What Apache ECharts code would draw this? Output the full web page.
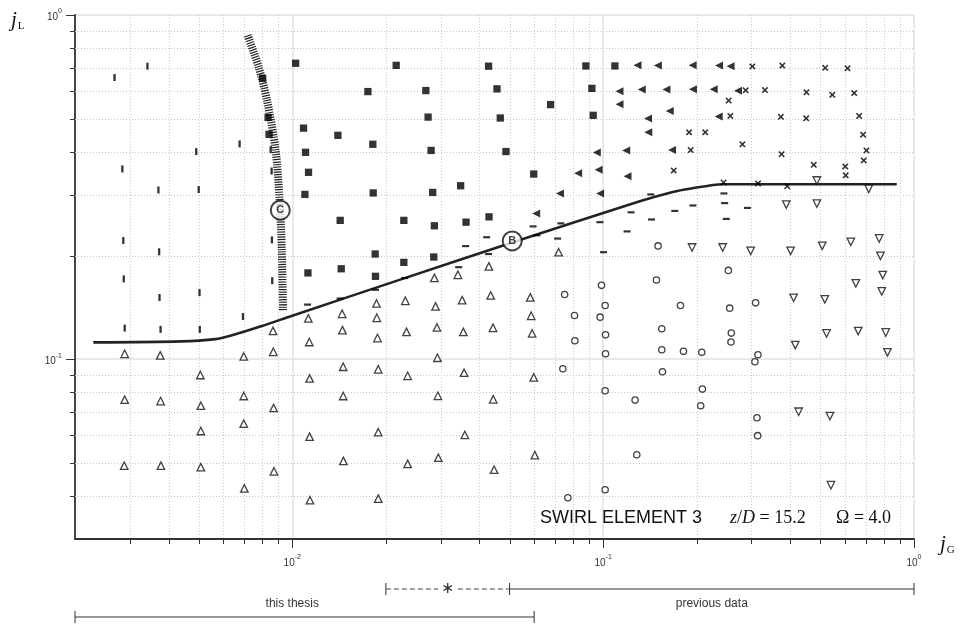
<!DOCTYPE html>
<html><head><meta charset="utf-8">
<script src="https://cdn.jsdelivr.net/npm/echarts@6/dist/echarts.min.js"></script>
<style>html,body{margin:0;padding:0;background:#fff}#c{width:963px;height:626px}</style>
</head><body><div id="c"></div>
<script>
// ---------- axis ranges & tick labels ----------
const X_MIN = 0.002, X_MAX = 1;
const Y_MIN = 0.03, Y_MAX = 1;
const xMinorTicks = [0.003,0.004,0.005,0.006,0.007,0.008,0.009,0.02,0.03,0.04,0.05,0.06,0.07,0.08,0.09,0.2,0.3,0.4,0.5,0.6,0.7,0.8,0.9];
const yMinorTicks = [0.04,0.05,0.06,0.07,0.08,0.09,0.2,0.3,0.4,0.5,0.6,0.7,0.8,0.9];

// ---------- data (jG, jL) ----------
const slugBars = [[0.00268,0.658],[0.00342,0.710],[0.00677,0.422],[0.00491,0.401],[0.00284,0.357],[0.00371,0.310],[0.00500,0.311],[0.00852,0.406],[0.00858,0.352],[0.00286,0.221],[0.00373,0.205],[0.00287,0.171],[0.00374,0.151],[0.00503,0.156],[0.00289,0.123],[0.00377,0.122],[0.00504,0.122],[0.00694,0.133],[0.00860,0.222],[0.00862,0.169]];

const filledSquares = [[0.01025,0.724],[0.00803,0.655],[0.00836,0.504],[0.00842,0.450],[0.01087,0.469],[0.01103,0.399],[0.01128,0.349],[0.01098,0.301],[0.01123,0.178],[0.02159,0.714],[0.04281,0.710],[0.0880,0.711],[0.1091,0.711],[0.01751,0.599],[0.02689,0.603],[0.04555,0.610],[0.0920,0.612],[0.06776,0.549],[0.02735,0.505],[0.04668,0.502],[0.0929,0.511],[0.01402,0.447],[0.01816,0.421],[0.02796,0.404],[0.04869,0.401],[0.0598,0.345],[0.0348,0.319],[0.01821,0.304],[0.0283,0.305],[0.01426,0.253],[0.02285,0.253],[0.02865,0.244],[0.03622,0.250],[0.04294,0.259],[0.01848,0.202],[0.02285,0.191],[0.02852,0.198],[0.01437,0.183],[0.01852,0.174]];

const leftTriangles = [[0.129,0.714],[0.150,0.713],[0.194,0.714],[0.236,0.713],[0.257,0.710],[0.1129,0.600],[0.1331,0.607],[0.1598,0.607],[0.1945,0.608],[0.2268,0.608],[0.2715,0.602],[0.1129,0.550],[0.1638,0.526],[0.1395,0.500],[0.2353,0.507],[0.1397,0.456],[0.0954,0.3985],[0.1186,0.404],[0.1666,0.405],[0.0831,0.347],[0.0967,0.355],[0.1198,0.340],[0.0726,0.303],[0.0978,0.303],[0.0609,0.265]];

const crosses = [[0.302,0.709],[0.377,0.713],[0.518,0.702],[0.611,0.700],[0.2874,0.604],[0.3315,0.605],[0.451,0.596],[0.546,0.586],[0.642,0.593],[0.2534,0.564],[0.2566,0.509],[0.373,0.506],[0.450,0.501],[0.666,0.509],[0.189,0.456],[0.213,0.456],[0.686,0.449],[0.2805,0.421],[0.1913,0.405],[0.375,0.394],[0.703,0.404],[0.689,0.378],[0.1687,0.353],[0.476,0.367],[0.601,0.363],[0.603,0.342],[0.244,0.326],[0.315,0.324],[0.391,0.318]];

const dashes = [[0.0112,0.144],[0.01426,0.150],[0.01852,0.159],[0.0230,0.172],[0.0343,0.185],[0.0361,0.213],[0.0422,0.226],[0.0428,0.202],[0.0595,0.243],[0.0612,0.229],[0.0714,0.224],[0.0731,0.248],[0.0976,0.250],[0.1003,0.2045],[0.1194,0.235],[0.123,0.267],[0.1423,0.301],[0.1431,0.2545],[0.170,0.2695],[0.1945,0.2795],[0.2447,0.303],[0.246,0.284],[0.249,0.2555],[0.2911,0.275]];

const openTriangles = [[0.00289,0.1036],[0.00376,0.1025],[0.00698,0.1018],[0.00867,0.1208],[0.00869,0.1050],[0.01126,0.1313],[0.01134,0.1121],[0.00506,0.0899],[0.00289,0.0762],[0.00377,0.0755],[0.00508,0.0732],[0.00698,0.0781],[0.00871,0.0721],[0.00508,0.0618],[0.00698,0.0649],[0.01137,0.0879],[0.01137,0.0595],[0.00288,0.0490],[0.00378,0.0490],[0.00508,0.0485],[0.00873,0.0472],[0.00701,0.0421],[0.0114,0.0389],
  [0.0429,0.186],[0.0719,0.2045],[0.02865,0.1722],[0.0341,0.1758],[0.01866,0.1451],[0.0231,0.1477],[0.0289,0.1423],[0.0352,0.1484],[0.04348,0.1531],[0.0583,0.1511],[0.01447,0.1354],[0.0187,0.1318],[0.0587,0.1336],[0.0145,0.1214],[0.0188,0.1151],[0.0233,0.1200],[0.0292,0.1236],[0.0355,0.1200],[0.04423,0.1233],[0.0591,0.1187],[0.0293,0.1009],[0.01458,0.0950],[0.0189,0.0934],[0.0235,0.0894],[0.0357,0.0913],[0.0598,0.0885],[0.01458,0.0781],[0.0294,0.0782],[0.0443,0.0764],[0.0189,0.0613],[0.0359,0.0602],[0.0146,0.0506],[0.0235,0.0496],[0.0295,0.0517],[0.0446,0.0477],[0.0603,0.0526],[0.0189,0.0393]];

const openCircles = [[0.0752,0.1541],[0.0988,0.1638],[0.1015,0.1432],[0.0809,0.1339],[0.0978,0.1324],[0.0811,0.1130],[0.1018,0.1176],[0.1018,0.1036],[0.0742,0.0937],[0.1502,0.2133],[0.2528,0.181],[0.1484,0.1697],[0.1773,0.1432],[0.2553,0.1406],[0.3094,0.1457],[0.1544,0.1225],[0.2584,0.1190],[0.2577,0.1121],[0.1544,0.1064],[0.1813,0.1053],[0.2076,0.1046],[0.3148,0.1029],[0.3078,0.0982],[0.1015,0.0809],[0.1267,0.0760],[0.1283,0.0527],[0.0770,0.03955],[0.1015,0.0417],[0.1552,0.0919],[0.2086,0.0818],[0.2060,0.0732],[0.3125,0.0675],[0.3141,0.0599]];

const downTriangles = [[0.487,0.3304],[0.7154,0.3123],[0.3883,0.2813],[0.487,0.2832],[0.1932,0.211],[0.2424,0.211],[0.2983,0.2063],[0.4009,0.2063],[0.5068,0.2133],[0.6263,0.2191],[0.7725,0.2242],[0.780,0.1995],[0.7934,0.1754],[0.650,0.166],[0.7876,0.1573],[0.4099,0.1507],[0.5166,0.1491],[0.5232,0.1187],[0.6615,0.1206],[0.8111,0.1195],[0.4151,0.1098],[0.8214,0.1046],[0.4254,0.0703],[0.5364,0.0683],[0.5404,0.0430]];

// transition boundary (solid curve) and C boundary (hatched band)
const boundaryB = [[0.00229,0.1118],[0.00437,0.1126],[0.00566,0.1143],[0.00632,0.1169],[0.00789,0.1243],[0.0100,0.1337],[0.02224,0.1702],[0.0510,0.2181],[0.1312,0.2876],[0.1675,0.3061],[0.1899,0.3128],[0.2424,0.3223],[0.880,0.3223]];
const boundaryC = [[0.007184,0.873],[0.007792,0.7063],[0.008293,0.5651],[0.008839,0.4046],[0.009103,0.2895],[0.009253,0.2073],[0.009335,0.1388]];
const pointB = [[0.0510,0.2205]];
const pointC = [[0.00915,0.2709]];

// bottom ranges (jG)
const rangeStar = [0.02, 0.05];
const rangePrevious = [0.05, 1];
const rangeThesis = [0.002, 0.06];

const chart = echarts.init(document.getElementById('c'), null, {renderer:'canvas'});

const expFmt = v => {
  const e = Math.log10(v);
  if (Math.abs(e - Math.round(e)) > 1e-6) return '';
  return '{b|10}{s|' + Math.round(e) + '}';
};
const labelRich = {
  b: {fontSize: 10, fontFamily: 'Liberation Sans', color: '#333', lineHeight: 14, verticalAlign: 'bottom'},
  s: {fontSize: 7, fontFamily: 'Liberation Sans', color: '#333', lineHeight: 14, verticalAlign: 'top'}
};

const openStyle = {color: '#fff', borderColor: '#111', borderWidth: 1.3};
const crossPath = 'path://M0,1.7L1.7,0L5,3.3L8.3,0L10,1.7L6.7,5L10,8.3L8.3,10L5,6.7L1.7,10L0,8.3L3.3,5Z';

const option = {
  animation: false,
  backgroundColor: '#fff',
  grid: {left: 75, right: 49, top: 15, bottom: 87},
  xAxis: {
    type: 'log', logBase: 10, min: X_MIN, max: X_MAX,
    axisLine: {show: true, lineStyle: {color: '#333', width: 1.8}},
    axisTick: {show: true, length: 9, lineStyle: {color: '#333', width: 1}},
    axisLabel: {formatter: expFmt, rich: labelRich, margin: 15, showMinLabel: false, showMaxLabel: true},
    splitLine: {show: true, lineStyle: {color: '#e2e2e2', width: 1.5}}
  },
  yAxis: {
    type: 'log', logBase: 10, min: Y_MIN, max: Y_MAX,
    axisLine: {show: true, lineStyle: {color: '#333', width: 1.8}},
    axisTick: {show: true, length: 9, lineStyle: {color: '#333', width: 1}},
    axisLabel: {formatter: expFmt, rich: labelRich, margin: 13, showMinLabel: false, showMaxLabel: true},
    splitLine: {show: true, lineStyle: {color: '#e2e2e2', width: 1.5}}
  },
  series: [
    {type: 'line', data: boundaryC, showSymbol: false, smooth: 0.3, z: 3,
     lineStyle: {color: '#222', width: 8, type: [1.2, 1.3], cap: 'butt'}},
    {type: 'line', data: boundaryB, showSymbol: false, smooth: 0.25, z: 4,
     lineStyle: {color: '#222', width: 2.6}},
    {type: 'scatter', data: slugBars, symbol: 'rect', symbolSize: [2.3, 7], itemStyle: {color: '#000'}, z: 5},
    {type: 'scatter', data: filledSquares, symbol: 'rect', symbolSize: 7.3, itemStyle: {color: '#000'}, z: 5},
    {type: 'scatter', data: leftTriangles, symbol: 'triangle', symbolRotate: 90, symbolSize: 8, itemStyle: {color: '#000'}, z: 5},
    {type: 'scatter', data: crosses, symbol: crossPath, symbolSize: 6.5, itemStyle: {color: '#000'}, z: 5},
    {type: 'scatter', data: dashes, symbol: 'rect', symbolSize: [7, 2.2], itemStyle: {color: '#000'}, z: 5},
    {type: 'scatter', data: openTriangles, symbol: 'triangle', symbolSize: 7.5, itemStyle: openStyle, z: 5},
    {type: 'scatter', data: openCircles, symbol: 'circle', symbolSize: 6.3, itemStyle: openStyle, z: 5},
    {type: 'scatter', data: downTriangles, symbol: 'triangle', symbolRotate: 180, symbolSize: 7.5, itemStyle: openStyle, z: 5},
    {type: 'scatter', data: pointB, symbol: 'circle', symbolSize: 19, z: 8,
     itemStyle: {color: '#fff', borderColor: '#111', borderWidth: 2},
     label: {show: true, position: 'inside', formatter: 'B', fontFamily: 'Liberation Sans', fontWeight: 'bold', fontSize: 11, color: '#111'}},
    {type: 'scatter', data: pointC, symbol: 'circle', symbolSize: 19, z: 8,
     itemStyle: {color: '#fff', borderColor: '#111', borderWidth: 2},
     label: {show: true, position: 'inside', formatter: 'C', fontFamily: 'Liberation Sans', fontWeight: 'bold', fontSize: 11, color: '#111'}}
  ]
};
chart.setOption(option);

// ---------- minor grid, minor ticks, annotations ----------
const px = v => chart.convertToPixel({xAxisIndex: 0}, v);
const py = v => chart.convertToPixel({yAxisIndex: 0}, v);
const L = px(X_MIN), R = px(X_MAX), T = py(Y_MAX), B = py(Y_MIN);
const els = [];
const gridDot = {stroke: '#c8c8c8', lineWidth: 1, lineDash: [1, 2]};
xMinorTicks.forEach(v => {
  const x = Math.round(px(v)) + 0.5;
  els.push({type: 'line', z: 1, silent: true, shape: {x1: x, y1: T, x2: x, y2: B}, style: gridDot});
  els.push({type: 'line', z: 1, silent: true, shape: {x1: x, y1: B, x2: x, y2: B + 5}, style: {stroke: '#333', lineWidth: 1}});
});
yMinorTicks.forEach(v => {
  const y = Math.round(py(v)) + 0.5;
  els.push({type: 'line', z: 1, silent: true, shape: {x1: L, y1: y, x2: R, y2: y}, style: gridDot});
  els.push({type: 'line', z: 1, silent: true, shape: {x1: L - 5, y1: y, x2: L, y2: y}, style: {stroke: '#333', lineWidth: 1}});
});

// bottom range bars
const Y1 = B + 50, Y2 = B + 78;
const segStyle = {stroke: '#333', lineWidth: 1};
const vtick = (x, y, h) => els.push({type: 'line', z: 1, shape: {x1: x, y1: y - h, x2: x, y2: y + h}, style: segStyle});
const s0 = px(rangeStar[0]), s1 = px(rangeStar[1]);
els.push({type: 'line', z: 1, shape: {x1: s0, y1: Y1, x2: s1, y2: Y1}, style: {stroke: '#444', lineWidth: 1, lineDash: [5, 3]}});
vtick(s0, Y1, 6);
els.push({type: 'text', z: 2, style: {text: '\u2217', x: (s0 + s1) / 2, y: Y1, align: 'center', verticalAlign: 'middle', fontSize: 16, fontFamily: 'DejaVu Sans', fill: '#333', backgroundColor: '#fff', padding: [0, 3]}});
const p0 = px(rangePrevious[0]), p1 = px(rangePrevious[1]);
els.push({type: 'line', z: 1, shape: {x1: p0, y1: Y1, x2: p1, y2: Y1}, style: segStyle});
vtick(p0, Y1, 6); vtick(p1, Y1, 6);
els.push({type: 'text', z: 2, style: {text: 'previous data', x: (p0 + p1) / 2, y: Y1 + 15, align: 'center', verticalAlign: 'middle', fontSize: 12, fontFamily: 'Liberation Sans', fill: '#333'}});
const t0 = px(rangeThesis[0]), t1 = px(rangeThesis[1]);
els.push({type: 'line', z: 1, shape: {x1: t0, y1: Y2, x2: t1, y2: Y2}, style: segStyle});
vtick(t0, Y2, 6); vtick(t1, Y2, 6);
els.push({type: 'text', z: 2, style: {text: 'this thesis', x: px(0.01), y: Y1 + 15, align: 'center', verticalAlign: 'middle', fontSize: 12, fontFamily: 'Liberation Sans', fill: '#333'}});

// axis names
els.push({type: 'text', z: 2, style: {
  text: '{j|j}{sub|L}', x: 11, y: 22, verticalAlign: 'middle',
  rich: {j: {fontSize: 21, fontStyle: 'italic', fontFamily: 'Liberation Serif', fill: '#111', lineHeight: 24, verticalAlign: 'top'},
         sub: {fontSize: 11, fontFamily: 'Liberation Serif', fill: '#111', lineHeight: 24, verticalAlign: 'bottom', padding: [0,0,2,1]}}}});
els.push({type: 'text', z: 2, style: {
  text: '{j|j}{sub|G}', x: 940, y: 546, verticalAlign: 'middle',
  rich: {j: {fontSize: 21, fontStyle: 'italic', fontFamily: 'Liberation Serif', fill: '#111', lineHeight: 24, verticalAlign: 'top'},
         sub: {fontSize: 11, fontFamily: 'Liberation Serif', fill: '#111', lineHeight: 24, verticalAlign: 'bottom', padding: [0,0,2,1]}}}});

// panel annotation
els.push({type: 'text', z: 6, style: {text: 'SWIRL ELEMENT 3', x: 540, y: 518, verticalAlign: 'middle', fontSize: 18, fontFamily: 'Liberation Sans', fill: '#111'}});
els.push({type: 'text', z: 6, style: {
  text: '{i|z}{r|/}{i|D}{r| = 15.2}', x: 730, y: 518, verticalAlign: 'middle',
  rich: {i: {fontSize: 18, fontStyle: 'italic', fontFamily: 'Liberation Serif', fill: '#111'},
         r: {fontSize: 18, fontFamily: 'Liberation Serif', fill: '#111'}}}});
els.push({type: 'text', z: 6, style: {text: '\u03A9 = 4.0', x: 836, y: 518, verticalAlign: 'middle', fontSize: 18, fontFamily: 'Liberation Serif', fill: '#111'}});

chart.setOption({graphic: {elements: els}});
</script>
</body></html>
